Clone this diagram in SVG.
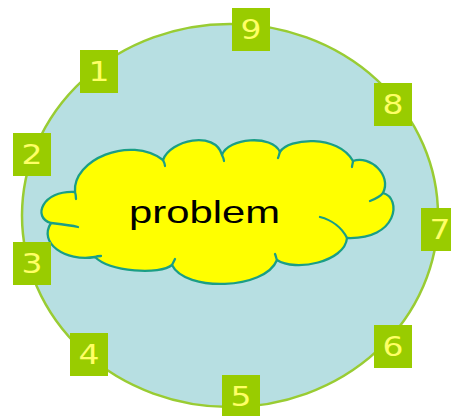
<svg xmlns="http://www.w3.org/2000/svg" width="451" height="416" viewBox="0 0 451 416">
  <style>
    .sq { fill: #99cc00; }
    .num { font-family: "DejaVu Sans", Verdana, sans-serif; font-size: 26px; fill: #ffff66; text-anchor: middle; }
    .cloud { fill: #ffff00; stroke: #1b9e86; stroke-width: 2.3; stroke-linejoin: round; }
    .tick { fill: none; stroke: #1b9e86; stroke-width: 2.3; stroke-linecap: round; }
  </style>
  <rect width="451" height="416" fill="#ffffff"/>
  <g id="ring">
    <ellipse cx="230" cy="215.5" rx="208" ry="191.5" fill="#b7dfe2" stroke="#99cc33" stroke-width="2.5"/>
  </g>
  <g id="connectors"></g>
  <g id="problem">
    <path class="cloud" d="M75,192 C72,160 130,135 163,160 C170,140 215,130 222,155 C228,138 272,134 280,152 C288,138 338,134 353,161 C370,155 392,175 383,193 C402,198 398,240 347,238 C345,262 295,272 277,260 C265,290 185,292 172,265 C160,275 110,272 95,257 C65,262 38,243 51,223 C32,218 42,190 75,192 Z"/>
    <path class="tick" d="M51,223 C60,224 70,225 78,227 M75,192 C76,195 76,197 76,199 M163,160 C164,162 165,164 165,166 M222,155 C223,157 224,159 224,161 M280,152 C279,154 279,156 278,158 M353,161 C353,163 352,165 352,167 M383,193 C380,197 375,199 370,201 M347,238 C342,228 332,220 320,217 M277,260 C276,258 276,256 275,254 M172,265 C173,263 174,261 175,259 M95,257 C97,256 99,256 101,256"/>
    <text x="129" y="223" font-family="Liberation Sans, Arial, sans-serif" font-size="32" fill="#000000" textLength="151" lengthAdjust="spacingAndGlyphs">problem</text>
  </g>
  <g id="n9"><rect class="sq" x="232" y="8" width="38" height="43"/><text class="num" transform="translate(251,39) scale(1.27,1)">9</text></g>
  <g id="n1"><rect class="sq" x="80" y="50" width="38" height="43"/><text class="num" transform="translate(99,81) scale(1.27,1)">1</text></g>
  <g id="n8"><rect class="sq" x="374" y="83" width="38" height="43"/><text class="num" transform="translate(393,114) scale(1.27,1)">8</text></g>
  <g id="n2"><rect class="sq" x="13" y="133" width="38" height="43"/><text class="num" transform="translate(32,164) scale(1.27,1)">2</text></g>
  <g id="n7"><rect class="sq" x="421" y="208" width="38" height="43"/><text class="num" transform="translate(440,239) scale(1.27,1)">7</text></g>
  <g id="n3"><rect class="sq" x="13" y="242" width="38" height="43"/><text class="num" transform="translate(32,273) scale(1.27,1)">3</text></g>
  <g id="n4"><rect class="sq" x="70" y="333" width="38" height="43"/><text class="num" transform="translate(89,364) scale(1.27,1)">4</text></g>
  <g id="n6"><rect class="sq" x="374" y="325" width="38" height="43"/><text class="num" transform="translate(393,356) scale(1.27,1)">6</text></g>
  <g id="n5"><rect class="sq" x="222" y="375" width="38" height="43"/><text class="num" transform="translate(241,406) scale(1.27,1)">5</text></g>
</svg>
